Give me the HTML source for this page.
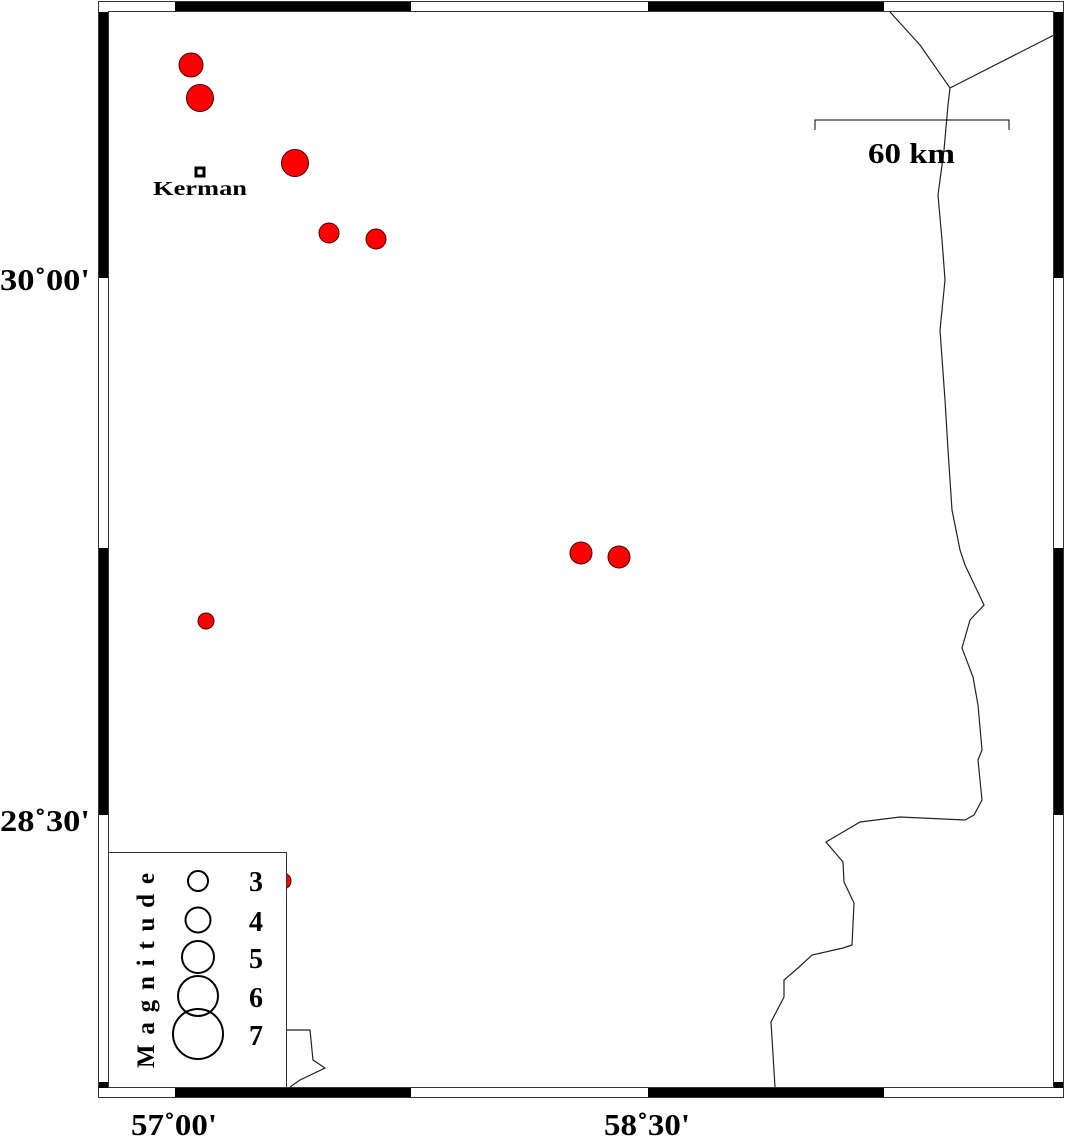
<!DOCTYPE html>
<html><head><style>html,body{margin:0;padding:0;background:#fff}svg{display:block}</style></head>
<body>
<svg width="1066" height="1137" viewBox="0 0 1066 1137" xmlns="http://www.w3.org/2000/svg" font-family="'Liberation Serif',serif" font-weight="bold">
<rect width="1066" height="1137" fill="#fff"/>
<g fill="none" stroke="#222" stroke-width="1.2">
<polyline points="890,12 920,45 950,88 1054,35"/>
<polyline points="950,88 948,105 944,150 938,195 942,240 945,280 940,330 945,400 948,450 952,510 960,550 965,565 984,605 970,620 962,648 973,677 978,705 982,750 978,760 982,800 974,815 965,820 900,817 860,822 826,842 843,862 844,882 854,903 852,945 843,948 812,955 798,968 784,980 784,997 771,1022 775,1087"/>
<polyline points="286,1030 310,1030 313,1060 325,1068 300,1080 290,1087"/>
</g>
<g fill="#f00" stroke="#400" stroke-width="1">
<circle cx="283" cy="881" r="8"/>
<circle cx="191" cy="65" r="12"/>
<circle cx="200" cy="98" r="13.5"/>
<circle cx="295" cy="163" r="13.5"/>
<circle cx="329" cy="233" r="10"/>
<circle cx="376" cy="239" r="10"/>
<circle cx="581" cy="553" r="11"/>
<circle cx="619" cy="557" r="11"/>
<circle cx="206" cy="621" r="8"/>
</g>
<rect x="196" y="168" width="8" height="8" fill="none" stroke="#000" stroke-width="3"/>
<text x="153" y="195" font-size="20" textLength="94" lengthAdjust="spacingAndGlyphs">Kerman</text>
<polyline points="815,130 815,120 1009,120 1009,130" fill="none" stroke="#000" stroke-width="1"/>
<text x="868" y="163" font-size="28" textLength="87" lengthAdjust="spacingAndGlyphs">60 km</text>
<rect x="108.5" y="852.5" width="178" height="235" fill="#fff" stroke="#333" stroke-width="1"/>
<g fill="none" stroke="#000" stroke-width="2">
<circle cx="198" cy="881" r="10"/>
<circle cx="198" cy="920" r="12.5"/>
<circle cx="198" cy="957" r="16"/>
<circle cx="198" cy="996" r="20"/>
<circle cx="198" cy="1034" r="25"/>
</g>
<g font-size="28">
<text x="249" y="891">3</text>
<text x="249" y="931">4</text>
<text x="249" y="968">5</text>
<text x="249" y="1007">6</text>
<text x="249" y="1045">7</text>
</g>
<text transform="translate(154,1068) rotate(-90)" font-size="25" textLength="195" lengthAdjust="spacing">Magnitude</text>
<rect x="98.5" y="1.5" width="965" height="1096" fill="none" stroke="#333" stroke-width="1"/>
<rect x="108.5" y="11.5" width="945" height="1076" fill="none" stroke="#333" stroke-width="1"/>
<g fill="#000">
<rect x="175" y="2" width="236" height="9"/>
<rect x="648" y="2" width="236" height="9"/>
<rect x="175" y="1088" width="236" height="9"/>
<rect x="648" y="1088" width="236" height="9"/>
<rect x="99" y="12" width="9" height="266"/>
<rect x="99" y="548" width="9" height="267"/>
<rect x="99" y="1082" width="9" height="6"/>
<rect x="1054" y="12" width="9" height="266"/>
<rect x="1054" y="548" width="9" height="267"/>
<rect x="1054" y="1082" width="9" height="6"/>
</g>
<g font-size="31">
<text x="0" y="290" textLength="90" lengthAdjust="spacingAndGlyphs">30˚00'</text>
<text x="0" y="831" textLength="90" lengthAdjust="spacingAndGlyphs">28˚30'</text>
<text x="131" y="1135" textLength="86" lengthAdjust="spacingAndGlyphs">57˚00'</text>
<text x="604" y="1135" textLength="86" lengthAdjust="spacingAndGlyphs">58˚30'</text>
</g>
</svg>
</body></html>
